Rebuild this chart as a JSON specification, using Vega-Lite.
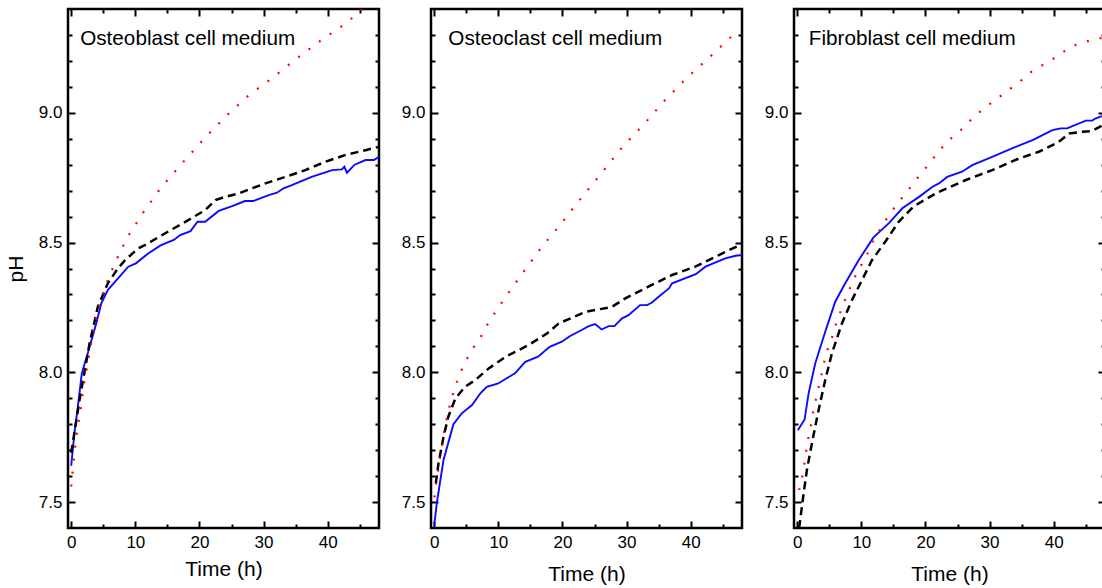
{
"$schema": "https://vega.github.io/schema/vega-lite/v6.json",
"padding": {"left": 4, "top": 6, "right": 0, "bottom": 0},
"bounds": "flush",
"spacing": 52,
"config": {
  "view": {"stroke": "black", "strokeWidth": 2.5},
  "font": "Liberation Sans",
  "axis": {"domain": false, "grid": false, "tickColor": "black", "tickWidth": 2, "labelFontSize": 17, "labelColor": "black", "labelFont": "Liberation Sans", "titleFont": "Liberation Sans", "titleFontSize": 21, "titleFontWeight": "normal", "titleColor": "black", "labelFlush": false}
},
"datasets": {
"d": [
{"panel":"Osteoblast","series":"s1","t":0,"pH":7.64},{"panel":"Osteoblast","series":"s1","t":0.5,"pH":7.765},{"panel":"Osteoblast","series":"s1","t":1.1,"pH":7.88},{"panel":"Osteoblast","series":"s1","t":1.65,"pH":7.996},{"panel":"Osteoblast","series":"s1","t":2.9,"pH":8.1},{"panel":"Osteoblast","series":"s1","t":3.9,"pH":8.188},{"panel":"Osteoblast","series":"s1","t":4.7,"pH":8.266},{"panel":"Osteoblast","series":"s1","t":5.7,"pH":8.317},{"panel":"Osteoblast","series":"s1","t":7.3,"pH":8.362},{"panel":"Osteoblast","series":"s1","t":8.9,"pH":8.407},{"panel":"Osteoblast","series":"s1","t":10.1,"pH":8.42},{"panel":"Osteoblast","series":"s1","t":12.0,"pH":8.458},{"panel":"Osteoblast","series":"s1","t":14.0,"pH":8.49},{"panel":"Osteoblast","series":"s1","t":16.0,"pH":8.51},{"panel":"Osteoblast","series":"s1","t":17.0,"pH":8.529},{"panel":"Osteoblast","series":"s1","t":18.6,"pH":8.544},{"panel":"Osteoblast","series":"s1","t":19.7,"pH":8.58},{"panel":"Osteoblast","series":"s1","t":20.9,"pH":8.58},{"panel":"Osteoblast","series":"s1","t":23.0,"pH":8.622},{"panel":"Osteoblast","series":"s1","t":25.1,"pH":8.64},{"panel":"Osteoblast","series":"s1","t":27.1,"pH":8.66},{"panel":"Osteoblast","series":"s1","t":28.4,"pH":8.66},{"panel":"Osteoblast","series":"s1","t":30.8,"pH":8.683},{"panel":"Osteoblast","series":"s1","t":32.1,"pH":8.692},{"panel":"Osteoblast","series":"s1","t":33.1,"pH":8.709},{"panel":"Osteoblast","series":"s1","t":34.4,"pH":8.721},{"panel":"Osteoblast","series":"s1","t":37.5,"pH":8.753},{"panel":"Osteoblast","series":"s1","t":40.7,"pH":8.779},{"panel":"Osteoblast","series":"s1","t":42.2,"pH":8.782},{"panel":"Osteoblast","series":"s1","t":42.6,"pH":8.792},{"panel":"Osteoblast","series":"s1","t":43.0,"pH":8.769},{"panel":"Osteoblast","series":"s1","t":44.2,"pH":8.8},{"panel":"Osteoblast","series":"s1","t":45.9,"pH":8.818},{"panel":"Osteoblast","series":"s1","t":47.2,"pH":8.818},{"panel":"Osteoblast","series":"s1","t":48,"pH":8.83},
{"panel":"Osteoblast","series":"s2","t":0,"pH":7.69},{"panel":"Osteoblast","series":"s2","t":1.3,"pH":7.893},{"panel":"Osteoblast","series":"s2","t":2.86,"pH":8.111},{"panel":"Osteoblast","series":"s2","t":4.15,"pH":8.252},{"panel":"Osteoblast","series":"s2","t":5.71,"pH":8.343},{"panel":"Osteoblast","series":"s2","t":7.27,"pH":8.4},{"panel":"Osteoblast","series":"s2","t":8.4,"pH":8.432},{"panel":"Osteoblast","series":"s2","t":10.4,"pH":8.477},{"panel":"Osteoblast","series":"s2","t":11.5,"pH":8.49},{"panel":"Osteoblast","series":"s2","t":14.6,"pH":8.535},{"panel":"Osteoblast","series":"s2","t":17.8,"pH":8.58},{"panel":"Osteoblast","series":"s2","t":20.9,"pH":8.625},{"panel":"Osteoblast","series":"s2","t":22.5,"pH":8.664},{"panel":"Osteoblast","series":"s2","t":24.0,"pH":8.676},{"panel":"Osteoblast","series":"s2","t":26.1,"pH":8.689},{"panel":"Osteoblast","series":"s2","t":28.2,"pH":8.709},{"panel":"Osteoblast","series":"s2","t":30.3,"pH":8.728},{"panel":"Osteoblast","series":"s2","t":33.4,"pH":8.753},{"panel":"Osteoblast","series":"s2","t":36.5,"pH":8.779},{"panel":"Osteoblast","series":"s2","t":39.6,"pH":8.811},{"panel":"Osteoblast","series":"s2","t":42.7,"pH":8.837},{"panel":"Osteoblast","series":"s2","t":45.9,"pH":8.856},{"panel":"Osteoblast","series":"s2","t":48,"pH":8.869},
{"panel":"Osteoblast","series":"s3","t":0,"pH":7.56},{"panel":"Osteoblast","series":"s3","t":0.36,"pH":7.653},{"panel":"Osteoblast","series":"s3","t":0.78,"pH":7.749},{"panel":"Osteoblast","series":"s3","t":1.4,"pH":7.845},{"panel":"Osteoblast","series":"s3","t":1.92,"pH":7.944},{"panel":"Osteoblast","series":"s3","t":2.6,"pH":8.04},{"panel":"Osteoblast","series":"s3","t":3.3,"pH":8.137},{"panel":"Osteoblast","series":"s3","t":4.1,"pH":8.233},{"panel":"Osteoblast","series":"s3","t":5.3,"pH":8.33},{"panel":"Osteoblast","series":"s3","t":6.9,"pH":8.426},{"panel":"Osteoblast","series":"s3","t":8.8,"pH":8.522},{"panel":"Osteoblast","series":"s3","t":11.3,"pH":8.618},{"panel":"Osteoblast","series":"s3","t":14.1,"pH":8.715},{"panel":"Osteoblast","series":"s3","t":17.5,"pH":8.811},{"panel":"Osteoblast","series":"s3","t":20.9,"pH":8.905},{"panel":"Osteoblast","series":"s3","t":24.3,"pH":8.991},{"panel":"Osteoblast","series":"s3","t":27.7,"pH":9.068},{"panel":"Osteoblast","series":"s3","t":31.3,"pH":9.133},{"panel":"Osteoblast","series":"s3","t":35.2,"pH":9.21},{"panel":"Osteoblast","series":"s3","t":39.0,"pH":9.28},{"panel":"Osteoblast","series":"s3","t":43.0,"pH":9.347},{"panel":"Osteoblast","series":"s3","t":44.8,"pH":9.387},{"panel":"Osteoblast","series":"s3","t":48,"pH":9.45},
{"panel":"Osteoclast","series":"s1","t":0,"pH":7.41},{"panel":"Osteoclast","series":"s1","t":0.4,"pH":7.495},{"panel":"Osteoclast","series":"s1","t":1.45,"pH":7.662},{"panel":"Osteoclast","series":"s1","t":3.0,"pH":7.8},{"panel":"Osteoclast","series":"s1","t":4.3,"pH":7.842},{"panel":"Osteoclast","series":"s1","t":5.9,"pH":7.874},{"panel":"Osteoclast","series":"s1","t":7.2,"pH":7.919},{"panel":"Osteoclast","series":"s1","t":8.2,"pH":7.944},{"panel":"Osteoclast","series":"s1","t":10.0,"pH":7.957},{"panel":"Osteoclast","series":"s1","t":11.3,"pH":7.977},{"panel":"Osteoclast","series":"s1","t":12.6,"pH":7.996},{"panel":"Osteoclast","series":"s1","t":14.2,"pH":8.04},{"panel":"Osteoclast","series":"s1","t":16.2,"pH":8.06},{"panel":"Osteoclast","series":"s1","t":18.0,"pH":8.098},{"panel":"Osteoclast","series":"s1","t":19.9,"pH":8.118},{"panel":"Osteoclast","series":"s1","t":21.2,"pH":8.14},{"panel":"Osteoclast","series":"s1","t":23.0,"pH":8.163},{"panel":"Osteoclast","series":"s1","t":24.1,"pH":8.178},{"panel":"Osteoclast","series":"s1","t":25.1,"pH":8.186},{"panel":"Osteoclast","series":"s1","t":26.1,"pH":8.165},{"panel":"Osteoclast","series":"s1","t":27.2,"pH":8.178},{"panel":"Osteoclast","series":"s1","t":28.1,"pH":8.178},{"panel":"Osteoclast","series":"s1","t":29.3,"pH":8.208},{"panel":"Osteoclast","series":"s1","t":30.3,"pH":8.22},{"panel":"Osteoclast","series":"s1","t":32.1,"pH":8.259},{"panel":"Osteoclast","series":"s1","t":33.2,"pH":8.259},{"panel":"Osteoclast","series":"s1","t":33.9,"pH":8.268},{"panel":"Osteoclast","series":"s1","t":35.0,"pH":8.291},{"panel":"Osteoclast","series":"s1","t":36.6,"pH":8.323},{"panel":"Osteoclast","series":"s1","t":37.1,"pH":8.343},{"panel":"Osteoclast","series":"s1","t":40.8,"pH":8.378},{"panel":"Osteoclast","series":"s1","t":42.3,"pH":8.407},{"panel":"Osteoclast","series":"s1","t":45.4,"pH":8.439},{"panel":"Osteoclast","series":"s1","t":47.0,"pH":8.449},{"panel":"Osteoclast","series":"s1","t":48,"pH":8.452},
{"panel":"Osteoclast","series":"s2","t":0.25,"pH":7.572},{"panel":"Osteoclast","series":"s2","t":0.67,"pH":7.649},{"panel":"Osteoclast","series":"s2","t":1.45,"pH":7.751},{"panel":"Osteoclast","series":"s2","t":2.2,"pH":7.829},{"panel":"Osteoclast","series":"s2","t":3.3,"pH":7.899},{"panel":"Osteoclast","series":"s2","t":4.8,"pH":7.944},{"panel":"Osteoclast","series":"s2","t":6.4,"pH":7.97},{"panel":"Osteoclast","series":"s2","t":8.5,"pH":8.015},{"panel":"Osteoclast","series":"s2","t":11.3,"pH":8.062},{"panel":"Osteoclast","series":"s2","t":14.7,"pH":8.105},{"panel":"Osteoclast","series":"s2","t":17.6,"pH":8.15},{"panel":"Osteoclast","series":"s2","t":19.4,"pH":8.188},{"panel":"Osteoclast","series":"s2","t":23.6,"pH":8.233},{"panel":"Osteoclast","series":"s2","t":27.7,"pH":8.252},{"panel":"Osteoclast","series":"s2","t":29.8,"pH":8.285},{"panel":"Osteoclast","series":"s2","t":33.4,"pH":8.33},{"panel":"Osteoclast","series":"s2","t":37.1,"pH":8.375},{"panel":"Osteoclast","series":"s2","t":40.7,"pH":8.407},{"panel":"Osteoclast","series":"s2","t":44.4,"pH":8.452},{"panel":"Osteoclast","series":"s2","t":47.2,"pH":8.485},
{"panel":"Osteoclast","series":"s3","t":0.05,"pH":7.518},{"panel":"Osteoclast","series":"s3","t":0.25,"pH":7.565},{"panel":"Osteoclast","series":"s3","t":0.56,"pH":7.613},{"panel":"Osteoclast","series":"s3","t":0.83,"pH":7.662},{"panel":"Osteoclast","series":"s3","t":1.19,"pH":7.711},{"panel":"Osteoclast","series":"s3","t":1.45,"pH":7.758},{"panel":"Osteoclast","series":"s3","t":1.81,"pH":7.805},{"panel":"Osteoclast","series":"s3","t":2.23,"pH":7.854},{"panel":"Osteoclast","series":"s3","t":2.75,"pH":7.902},{"panel":"Osteoclast","series":"s3","t":3.37,"pH":7.951},{"panel":"Osteoclast","series":"s3","t":4.06,"pH":7.998},{"panel":"Osteoclast","series":"s3","t":5.0,"pH":8.047},{"panel":"Osteoclast","series":"s3","t":6.13,"pH":8.096},{"panel":"Osteoclast","series":"s3","t":7.43,"pH":8.143},{"panel":"Osteoclast","series":"s3","t":8.47,"pH":8.192},{"panel":"Osteoclast","series":"s3","t":9.77,"pH":8.24},{"panel":"Osteoclast","series":"s3","t":11.08,"pH":8.289},{"panel":"Osteoclast","series":"s3","t":13.93,"pH":8.387},{"panel":"Osteoclast","series":"s3","t":16.8,"pH":8.484},{"panel":"Osteoclast","series":"s3","t":19.9,"pH":8.576},{"panel":"Osteoclast","series":"s3","t":23.0,"pH":8.674},{"panel":"Osteoclast","series":"s3","t":26.15,"pH":8.769},{"panel":"Osteoclast","series":"s3","t":29.3,"pH":8.867},{"panel":"Osteoclast","series":"s3","t":32.7,"pH":8.956},{"panel":"Osteoclast","series":"s3","t":36.0,"pH":9.049},{"panel":"Osteoclast","series":"s3","t":39.45,"pH":9.136},{"panel":"Osteoclast","series":"s3","t":43.1,"pH":9.218},{"panel":"Osteoclast","series":"s3","t":46.7,"pH":9.302},
{"panel":"Fibroblast","series":"s1","t":0.1,"pH":7.777},{"panel":"Fibroblast","series":"s1","t":1.15,"pH":7.818},{"panel":"Fibroblast","series":"s1","t":1.78,"pH":7.919},{"panel":"Fibroblast","series":"s1","t":2.81,"pH":8.034},{"panel":"Fibroblast","series":"s1","t":4.37,"pH":8.156},{"panel":"Fibroblast","series":"s1","t":5.93,"pH":8.272},{"panel":"Fibroblast","series":"s1","t":7.49,"pH":8.343},{"panel":"Fibroblast","series":"s1","t":9.58,"pH":8.432},{"panel":"Fibroblast","series":"s1","t":11.9,"pH":8.52},{"panel":"Fibroblast","series":"s1","t":14.3,"pH":8.575},{"panel":"Fibroblast","series":"s1","t":16.4,"pH":8.632},{"panel":"Fibroblast","series":"s1","t":19.0,"pH":8.676},{"panel":"Fibroblast","series":"s1","t":21.1,"pH":8.715},{"panel":"Fibroblast","series":"s1","t":22.1,"pH":8.728},{"panel":"Fibroblast","series":"s1","t":23.4,"pH":8.753},{"panel":"Fibroblast","series":"s1","t":25.7,"pH":8.773},{"panel":"Fibroblast","series":"s1","t":27.3,"pH":8.798},{"panel":"Fibroblast","series":"s1","t":30.4,"pH":8.83},{"panel":"Fibroblast","series":"s1","t":33.5,"pH":8.863},{"panel":"Fibroblast","series":"s1","t":36.7,"pH":8.895},{"panel":"Fibroblast","series":"s1","t":39.8,"pH":8.933},{"panel":"Fibroblast","series":"s1","t":41.1,"pH":8.94},{"panel":"Fibroblast","series":"s1","t":42.1,"pH":8.94},{"panel":"Fibroblast","series":"s1","t":45.0,"pH":8.97},{"panel":"Fibroblast","series":"s1","t":46.0,"pH":8.97},{"panel":"Fibroblast","series":"s1","t":46.5,"pH":8.978},{"panel":"Fibroblast","series":"s1","t":47.3,"pH":8.985},{"panel":"Fibroblast","series":"s1","t":48,"pH":8.99},
{"panel":"Fibroblast","series":"s2","t":0.3,"pH":7.4},{"panel":"Fibroblast","series":"s2","t":1.0,"pH":7.533},{"panel":"Fibroblast","series":"s2","t":1.51,"pH":7.623},{"panel":"Fibroblast","series":"s2","t":2.29,"pH":7.726},{"panel":"Fibroblast","series":"s2","t":3.33,"pH":7.854},{"panel":"Fibroblast","series":"s2","t":4.37,"pH":7.97},{"panel":"Fibroblast","series":"s2","t":5.41,"pH":8.073},{"panel":"Fibroblast","series":"s2","t":6.97,"pH":8.188},{"panel":"Fibroblast","series":"s2","t":8.53,"pH":8.278},{"panel":"Fibroblast","series":"s2","t":10.1,"pH":8.355},{"panel":"Fibroblast","series":"s2","t":11.65,"pH":8.432},{"panel":"Fibroblast","series":"s2","t":13.73,"pH":8.503},{"panel":"Fibroblast","series":"s2","t":15.82,"pH":8.58},{"panel":"Fibroblast","series":"s2","t":18.2,"pH":8.64},{"panel":"Fibroblast","series":"s2","t":21.8,"pH":8.692},{"panel":"Fibroblast","series":"s2","t":26.3,"pH":8.741},{"panel":"Fibroblast","series":"s2","t":30.4,"pH":8.779},{"panel":"Fibroblast","series":"s2","t":34.6,"pH":8.824},{"panel":"Fibroblast","series":"s2","t":37.7,"pH":8.85},{"panel":"Fibroblast","series":"s2","t":40.8,"pH":8.888},{"panel":"Fibroblast","series":"s2","t":42.4,"pH":8.92},{"panel":"Fibroblast","series":"s2","t":44.5,"pH":8.927},{"panel":"Fibroblast","series":"s2","t":46.0,"pH":8.93},{"panel":"Fibroblast","series":"s2","t":47.5,"pH":8.95},
{"panel":"Fibroblast","series":"s3","t":0.3,"pH":7.546},{"panel":"Fibroblast","series":"s3","t":0.73,"pH":7.591},{"panel":"Fibroblast","series":"s3","t":1.09,"pH":7.642},{"panel":"Fibroblast","series":"s3","t":1.36,"pH":7.69},{"panel":"Fibroblast","series":"s3","t":1.67,"pH":7.739},{"panel":"Fibroblast","series":"s3","t":2.09,"pH":7.788},{"panel":"Fibroblast","series":"s3","t":2.4,"pH":7.835},{"panel":"Fibroblast","series":"s3","t":2.81,"pH":7.884},{"panel":"Fibroblast","series":"s3","t":3.23,"pH":7.931},{"panel":"Fibroblast","series":"s3","t":3.7,"pH":7.979},{"panel":"Fibroblast","series":"s3","t":4.12,"pH":8.028},{"panel":"Fibroblast","series":"s3","t":4.52,"pH":8.075},{"panel":"Fibroblast","series":"s3","t":5.3,"pH":8.124},{"panel":"Fibroblast","series":"s3","t":5.83,"pH":8.171},{"panel":"Fibroblast","series":"s3","t":6.55,"pH":8.22},{"panel":"Fibroblast","series":"s3","t":7.29,"pH":8.269},{"panel":"Fibroblast","series":"s3","t":8.11,"pH":8.317},{"panel":"Fibroblast","series":"s3","t":8.95,"pH":8.366},{"panel":"Fibroblast","series":"s3","t":10.0,"pH":8.413},{"panel":"Fibroblast","series":"s3","t":11.0,"pH":8.46},{"panel":"Fibroblast","series":"s3","t":11.9,"pH":8.509},{"panel":"Fibroblast","series":"s3","t":13.1,"pH":8.558},{"panel":"Fibroblast","series":"s3","t":14.35,"pH":8.608},{"panel":"Fibroblast","series":"s3","t":15.8,"pH":8.655},{"panel":"Fibroblast","series":"s3","t":17.4,"pH":8.705},{"panel":"Fibroblast","series":"s3","t":18.9,"pH":8.753},{"panel":"Fibroblast","series":"s3","t":20.5,"pH":8.801},{"panel":"Fibroblast","series":"s3","t":22.0,"pH":8.85},{"panel":"Fibroblast","series":"s3","t":23.5,"pH":8.891},{"panel":"Fibroblast","series":"s3","t":25.5,"pH":8.933},{"panel":"Fibroblast","series":"s3","t":27.3,"pH":8.978},{"panel":"Fibroblast","series":"s3","t":29.1,"pH":9.017},{"panel":"Fibroblast","series":"s3","t":30.9,"pH":9.049},{"panel":"Fibroblast","series":"s3","t":32.9,"pH":9.087},{"panel":"Fibroblast","series":"s3","t":34.8,"pH":9.122},{"panel":"Fibroblast","series":"s3","t":36.7,"pH":9.162},{"panel":"Fibroblast","series":"s3","t":38.7,"pH":9.19},{"panel":"Fibroblast","series":"s3","t":40.7,"pH":9.22},{"panel":"Fibroblast","series":"s3","t":42.6,"pH":9.254},{"panel":"Fibroblast","series":"s3","t":44.4,"pH":9.27},{"panel":"Fibroblast","series":"s3","t":46.4,"pH":9.283},{"panel":"Fibroblast","series":"s3","t":47.8,"pH":9.29}
]
},
"hconcat": [
{
 "width": 311, "height": 519,
 "data": {"name": "d"},
 "transform": [{"filter": "datum.panel === 'Osteoblast'"}],
 "layer": [
  {"transform": [{"filter": "datum.series === 's1'"}],
   "mark": {"type": "line", "color": "#0a0aff", "strokeWidth": 1.9, "clip": true},
   "encoding": {
    "x": {"field": "t", "type": "quantitative", "scale": {"domain": [-0.5, 48], "nice": false, "zero": false}, "axis": {"orient": "bottom", "values": [0,10,20,30,40], "offset": -7, "tickSize": 7, "labelPadding": 6, "title": "Time (h)", "titlePadding": 8}},
    "y": {"field": "pH", "type": "quantitative", "scale": {"domain": [7.4, 9.4], "nice": false, "zero": false}, "axis": {"orient": "left", "values": [7.5,8,8.5,9], "format": ".1f", "offset": -7, "tickSize": 7, "labelPadding": 6, "title": "pH", "titlePadding": 12}}
   }},
  {"transform": [{"filter": "datum.series === 's2'"}],
   "mark": {"type": "line", "color": "black", "strokeWidth": 2.5, "strokeDash": [8, 5], "clip": true},
   "encoding": {
    "x": {"field": "t", "type": "quantitative", "scale": {"domain": [-0.5, 48], "nice": false, "zero": false}, "axis": {"orient": "bottom", "values": [5,15,25,35,45], "offset": -4, "tickSize": 4, "labels": false, "title": null}},
    "y": {"field": "pH", "type": "quantitative", "scale": {"domain": [7.4, 9.4], "nice": false, "zero": false}, "axis": {"orient": "left", "values": [7.6,7.7,7.8,7.9,8.1,8.2,8.3,8.4,8.6,8.7,8.8,8.9,9.1,9.2,9.3], "offset": -4, "tickSize": 4, "labels": false, "title": null}}
   }},
  {"transform": [{"filter": "datum.series === 's3'"}],
   "mark": {"type": "line", "color": "#ff0000", "strokeWidth": 2.2, "strokeDash": [2, 11], "clip": true},
   "encoding": {
    "x": {"field": "t", "type": "quantitative", "scale": {"domain": [-0.5, 48], "nice": false, "zero": false}, "axis": {"orient": "top", "values": [0,10,20,30,40], "offset": -7, "tickSize": 7, "labels": false, "title": null}},
    "y": {"field": "pH", "type": "quantitative", "scale": {"domain": [7.4, 9.4], "nice": false, "zero": false}, "axis": {"orient": "right", "values": [7.5,8,8.5,9], "offset": -7, "tickSize": 7, "labels": false, "title": null}}
   }},
  {"mark": {"type": "point", "opacity": 0, "clip": true},
   "encoding": {
    "x": {"field": "t", "type": "quantitative", "scale": {"domain": [-0.5, 48], "nice": false, "zero": false}, "axis": {"orient": "top", "values": [5,15,25,35,45], "offset": -4, "tickSize": 4, "labels": false, "title": null}},
    "y": {"field": "pH", "type": "quantitative", "scale": {"domain": [7.4, 9.4], "nice": false, "zero": false}, "axis": {"orient": "right", "values": [7.6,7.7,7.8,7.9,8.1,8.2,8.3,8.4,8.6,8.7,8.8,8.9,9.1,9.2,9.3], "offset": -4, "tickSize": 4, "labels": false, "title": null}}
   }},
  {"data": {"values": [{"label": "Osteoblast cell medium"}]},
   "mark": {"type": "text", "align": "left", "baseline": "alphabetic", "fontSize": 20.7, "color": "black"},
   "encoding": {
    "x": {"datum": 1.4, "type": "quantitative", "axis": null},
    "y": {"datum": 9.26, "type": "quantitative", "axis": null},
    "text": {"field": "label"}
   }}
 ],
 "resolve": {"axis": {"x": "independent", "y": "independent"}}
},
{
 "width": 311, "height": 519,
 "data": {"name": "d"},
 "transform": [{"filter": "datum.panel === 'Osteoclast'"}],
 "layer": [
  {"transform": [{"filter": "datum.series === 's1'"}],
   "mark": {"type": "line", "color": "#0a0aff", "strokeWidth": 1.9, "clip": true},
   "encoding": {
    "x": {"field": "t", "type": "quantitative", "scale": {"domain": [-0.5, 48], "nice": false, "zero": false}, "axis": {"orient": "bottom", "values": [0,10,20,30,40], "offset": -7, "tickSize": 7, "labelPadding": 6, "title": "Time (h)", "titlePadding": 13}},
    "y": {"field": "pH", "type": "quantitative", "scale": {"domain": [7.4, 9.4], "nice": false, "zero": false}, "axis": {"orient": "left", "values": [7.5,8,8.5,9], "format": ".1f", "offset": -7, "tickSize": 7, "labelPadding": 6, "title": null}}
   }},
  {"transform": [{"filter": "datum.series === 's2'"}],
   "mark": {"type": "line", "color": "black", "strokeWidth": 2.5, "strokeDash": [8, 5], "clip": true},
   "encoding": {
    "x": {"field": "t", "type": "quantitative", "scale": {"domain": [-0.5, 48], "nice": false, "zero": false}, "axis": {"orient": "bottom", "values": [5,15,25,35,45], "offset": -4, "tickSize": 4, "labels": false, "title": null}},
    "y": {"field": "pH", "type": "quantitative", "scale": {"domain": [7.4, 9.4], "nice": false, "zero": false}, "axis": {"orient": "left", "values": [7.6,7.7,7.8,7.9,8.1,8.2,8.3,8.4,8.6,8.7,8.8,8.9,9.1,9.2,9.3], "offset": -4, "tickSize": 4, "labels": false, "title": null}}
   }},
  {"transform": [{"filter": "datum.series === 's3'"}],
   "mark": {"type": "line", "color": "#ff0000", "strokeWidth": 2.2, "strokeDash": [2, 11], "clip": true},
   "encoding": {
    "x": {"field": "t", "type": "quantitative", "scale": {"domain": [-0.5, 48], "nice": false, "zero": false}, "axis": {"orient": "top", "values": [0,10,20,30,40], "offset": -7, "tickSize": 7, "labels": false, "title": null}},
    "y": {"field": "pH", "type": "quantitative", "scale": {"domain": [7.4, 9.4], "nice": false, "zero": false}, "axis": {"orient": "right", "values": [7.5,8,8.5,9], "offset": -7, "tickSize": 7, "labels": false, "title": null}}
   }},
  {"mark": {"type": "point", "opacity": 0, "clip": true},
   "encoding": {
    "x": {"field": "t", "type": "quantitative", "scale": {"domain": [-0.5, 48], "nice": false, "zero": false}, "axis": {"orient": "top", "values": [5,15,25,35,45], "offset": -4, "tickSize": 4, "labels": false, "title": null}},
    "y": {"field": "pH", "type": "quantitative", "scale": {"domain": [7.4, 9.4], "nice": false, "zero": false}, "axis": {"orient": "right", "values": [7.6,7.7,7.8,7.9,8.1,8.2,8.3,8.4,8.6,8.7,8.8,8.9,9.1,9.2,9.3], "offset": -4, "tickSize": 4, "labels": false, "title": null}}
   }},
  {"data": {"values": [{"label": "Osteoclast cell medium"}]},
   "mark": {"type": "text", "align": "left", "baseline": "alphabetic", "fontSize": 20.7, "color": "black"},
   "encoding": {
    "x": {"datum": 2.2, "type": "quantitative", "axis": null},
    "y": {"datum": 9.26, "type": "quantitative", "axis": null},
    "text": {"field": "label"}
   }}
 ],
 "resolve": {"axis": {"x": "independent", "y": "independent"}}
},
{
 "width": 311, "height": 519,
 "data": {"name": "d"},
 "transform": [{"filter": "datum.panel === 'Fibroblast'"}],
 "layer": [
  {"transform": [{"filter": "datum.series === 's1'"}],
   "mark": {"type": "line", "color": "#0a0aff", "strokeWidth": 1.9, "clip": true},
   "encoding": {
    "x": {"field": "t", "type": "quantitative", "scale": {"domain": [-0.5, 48], "nice": false, "zero": false}, "axis": {"orient": "bottom", "values": [0,10,20,30,40], "offset": -7, "tickSize": 7, "labelPadding": 6, "title": "Time (h)", "titlePadding": 13}},
    "y": {"field": "pH", "type": "quantitative", "scale": {"domain": [7.4, 9.4], "nice": false, "zero": false}, "axis": {"orient": "left", "values": [7.5,8,8.5,9], "format": ".1f", "offset": -7, "tickSize": 7, "labelPadding": 6, "title": null}}
   }},
  {"transform": [{"filter": "datum.series === 's2'"}],
   "mark": {"type": "line", "color": "black", "strokeWidth": 2.5, "strokeDash": [8, 5], "clip": true},
   "encoding": {
    "x": {"field": "t", "type": "quantitative", "scale": {"domain": [-0.5, 48], "nice": false, "zero": false}, "axis": {"orient": "bottom", "values": [5,15,25,35,45], "offset": -4, "tickSize": 4, "labels": false, "title": null}},
    "y": {"field": "pH", "type": "quantitative", "scale": {"domain": [7.4, 9.4], "nice": false, "zero": false}, "axis": {"orient": "left", "values": [7.6,7.7,7.8,7.9,8.1,8.2,8.3,8.4,8.6,8.7,8.8,8.9,9.1,9.2,9.3], "offset": -4, "tickSize": 4, "labels": false, "title": null}}
   }},
  {"transform": [{"filter": "datum.series === 's3'"}],
   "mark": {"type": "line", "color": "#ff0000", "strokeWidth": 2.2, "strokeDash": [2, 11], "clip": true},
   "encoding": {
    "x": {"field": "t", "type": "quantitative", "scale": {"domain": [-0.5, 48], "nice": false, "zero": false}, "axis": {"orient": "top", "values": [0,10,20,30,40], "offset": -7, "tickSize": 7, "labels": false, "title": null}},
    "y": {"field": "pH", "type": "quantitative", "scale": {"domain": [7.4, 9.4], "nice": false, "zero": false}, "axis": {"orient": "right", "values": [7.5,8,8.5,9], "offset": -7, "tickSize": 7, "labels": false, "title": null}}
   }},
  {"mark": {"type": "point", "opacity": 0, "clip": true},
   "encoding": {
    "x": {"field": "t", "type": "quantitative", "scale": {"domain": [-0.5, 48], "nice": false, "zero": false}, "axis": {"orient": "top", "values": [5,15,25,35,45], "offset": -4, "tickSize": 4, "labels": false, "title": null}},
    "y": {"field": "pH", "type": "quantitative", "scale": {"domain": [7.4, 9.4], "nice": false, "zero": false}, "axis": {"orient": "right", "values": [7.6,7.7,7.8,7.9,8.1,8.2,8.3,8.4,8.6,8.7,8.8,8.9,9.1,9.2,9.3], "offset": -4, "tickSize": 4, "labels": false, "title": null}}
   }},
  {"data": {"values": [{"label": "Fibroblast cell medium"}]},
   "mark": {"type": "text", "align": "left", "baseline": "alphabetic", "fontSize": 20.7, "color": "black"},
   "encoding": {
    "x": {"datum": 1.8, "type": "quantitative", "axis": null},
    "y": {"datum": 9.26, "type": "quantitative", "axis": null},
    "text": {"field": "label"}
   }}
 ],
 "resolve": {"axis": {"x": "independent", "y": "independent"}}
}
]
}
